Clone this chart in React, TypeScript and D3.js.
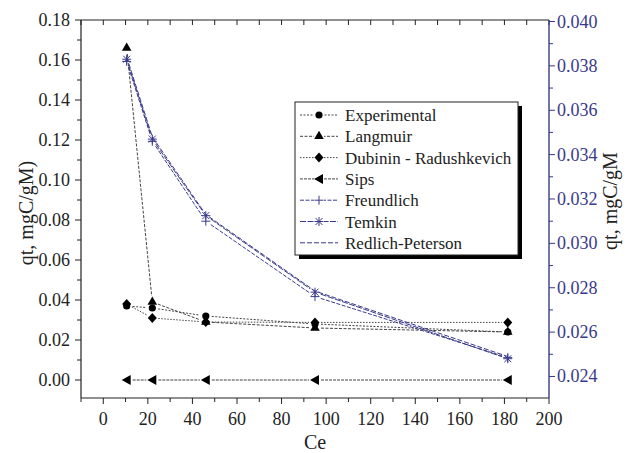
import * as d3 from 'd3';

const ce = [10.5, 22, 46, 95, 181.5];

// left axis series
const experimental = [0.037, 0.036, 0.032, 0.028, 0.024];
const langmuir = [0.166, 0.039, 0.029, 0.026, 0.024];
const dubinin = [0.038, 0.031, 0.029, 0.0288, 0.0288];
const sips = [0, 0, 0, 0, 0];

// right axis series
const freundlich = [0.0382, 0.0346, 0.0310, 0.0276, 0.02485];
const temkin = [0.0383, 0.0347, 0.03125, 0.0278, 0.0248];
const redlichPeterson = [0.0384, 0.0348, 0.0313, 0.02785, 0.0249];

const xTicks = [0, 20, 40, 60, 80, 100, 120, 140, 160, 180, 200];
const yLeftTicks = [0, 0.02, 0.04, 0.06, 0.08, 0.1, 0.12, 0.14, 0.16, 0.18];
const yRightTicks = [0.024, 0.026, 0.028, 0.03, 0.032, 0.034, 0.036, 0.038, 0.04];

const legendNames = ['Experimental', 'Langmuir', 'Dubinin - Radushkevich', 'Sips', 'Freundlich', 'Temkin', 'Redlich-Peterson'];

const W = 627;
const H = 453;
const m = { left: 81, right: 549, top: 20, bottom: 398 };
const NAVY = '#3a3a8a';
const GRAY = '#444';
const FONT = 'Liberation Serif';

const x = d3.scaleLinear().domain([-10, 200]).range([m.left, m.right]);
const yL = d3.scaleLinear().domain([-0.009, 0.18]).range([m.bottom, m.top]);
const yR = d3.scaleLinear().domain([0.02303, 0.0400]).range([m.bottom, m.top + 1.5]);

type Pt = [number, number];

function gapSegments(pts: Pt[], gap: number) {
  const out: [Pt, Pt][] = [];
  for (let i = 0; i < pts.length - 1; i++) {
    const [x1, y1] = pts[i];
    const [x2, y2] = pts[i + 1];
    const len = Math.hypot(x2 - x1, y2 - y1);
    if (len <= gap * 2) continue;
    const ux = (x2 - x1) / len;
    const uy = (y2 - y1) / len;
    out.push([[x1 + ux * gap, y1 + uy * gap], [x2 - ux * gap, y2 - uy * gap]]);
  }
  return out;
}

function Marker({ kind, cx, cy }: { kind: string; cx: number; cy: number }) {
  if (kind === 'circle') return <circle cx={cx} cy={cy} r={3.6} fill="#000" />;
  if (kind === 'triangle') {
    const s = d3.symbol(d3.symbolTriangle, 40)();
    return <path d={s!} transform={`translate(${cx},${cy})`} fill="#000" />;
  }
  if (kind === 'diamond') {
    return <path d={`M${cx},${cy - 5}L${cx + 4.5},${cy}L${cx},${cy + 5}L${cx - 4.5},${cy}Z`} fill="#000" />;
  }
  if (kind === 'left') {
    return <path d={`M${cx - 5},${cy}L${cx + 4},${cy - 5}L${cx + 4},${cy + 5}Z`} fill="#000" />;
  }
  if (kind === 'plus') {
    return (
      <g stroke={NAVY} strokeWidth={1}>
        <line x1={cx - 4.5} x2={cx + 4.5} y1={cy} y2={cy} />
        <line x1={cx} x2={cx} y1={cy - 4.5} y2={cy + 4.5} />
      </g>
    );
  }
  if (kind === 'star') {
    return (
      <g stroke={NAVY} strokeWidth={1}>
        <line x1={cx - 4.5} x2={cx + 4.5} y1={cy} y2={cy} />
        <line x1={cx} x2={cx} y1={cy - 4.5} y2={cy + 4.5} />
        <line x1={cx - 3.5} x2={cx + 3.5} y1={cy - 3.5} y2={cy + 3.5} />
        <line x1={cx - 3.5} x2={cx + 3.5} y1={cy + 3.5} y2={cy - 3.5} />
      </g>
    );
  }
  return null;
}

const series = [
  { name: legendNames[0], vals: experimental, axis: 'L', marker: 'circle', color: GRAY, dash: '2,1.5' },
  { name: legendNames[1], vals: langmuir, axis: 'L', marker: 'triangle', color: GRAY, dash: '3,1.5' },
  { name: legendNames[2], vals: dubinin, axis: 'L', marker: 'diamond', color: GRAY, dash: '1.5,1.5' },
  { name: legendNames[3], vals: sips, axis: 'L', marker: 'left', color: GRAY, dash: '3,1' },
  { name: legendNames[4], vals: freundlich, axis: 'R', marker: 'plus', color: NAVY, dash: '4,1.5' },
  { name: legendNames[5], vals: temkin, axis: 'R', marker: 'star', color: NAVY, dash: '6,1.5' },
  { name: legendNames[6], vals: redlichPeterson, axis: 'R', marker: 'none', color: NAVY, dash: '5,2' },
];

const tf = { fontFamily: FONT };

export default function App() {
  const xMinor = d3.range(-10, 201, 10);
  const yLMinor = d3.range(-0.0, 0.181, 0.01);
  const yRMinor = d3.range(0.024, 0.0401, 0.001);

  const legend = { x: 295, y: 102, w: 223, h: 153 };

  return (
    <svg width={W} height={H} style={{ position: 'absolute', left: 0, top: 0, fontFamily: FONT }}>
      <rect width={W} height={H} fill="#fff" />

      {/* data */}
      {series.map((s) => {
        const pts: Pt[] = ce.map((c, i) => [x(c), s.axis === 'L' ? yL(s.vals[i]) : yR(s.vals[i])]);
        const segs = gapSegments(pts, 6);
        return (
          <g key={s.name}>
            {s.marker === 'none'
              ? <path d={d3.line()(pts)!} fill="none" stroke={s.color} strokeWidth={1} strokeDasharray={s.dash} />
              : segs.map((sg, i) => (
                <line key={i} x1={sg[0][0]} y1={sg[0][1]} x2={sg[1][0]} y2={sg[1][1]}
                  stroke={s.color} strokeWidth={1} strokeDasharray={s.dash} />
              ))}
            {pts.map((p, i) => <Marker key={i} kind={s.marker} cx={p[0]} cy={p[1]} />)}
          </g>
        );
      })}

      {/* frame: top */}
      <line x1={m.left} x2={m.right} y1={m.top} y2={m.top} stroke="#222" strokeWidth={1.2} />
      {xMinor.map((t) => (
        <line key={'tt' + t} x1={x(t)} x2={x(t)} y1={m.top} y2={m.top + 5} stroke="#222" />
      ))}

      {/* bottom axis */}
      <line x1={m.left} x2={m.right} y1={m.bottom} y2={m.bottom} stroke="#222" strokeWidth={1.2} />
      {xMinor.map((t) => (
        <line key={'bt' + t} x1={x(t)} x2={x(t)} y1={m.bottom} y2={m.bottom + (t % 20 === 0 ? 6 : 4)} stroke="#222" />
      ))}
      {xTicks.map((t) => (
        <text key={'bl' + t} x={x(t)} y={m.bottom + 27} textAnchor="middle" fontSize={18} fill="#222" style={tf}>{t}</text>
      ))}
      <text x={(m.left + m.right) / 2} y={449} textAnchor="middle" fontSize={20} fill="#222" style={tf}>Ce</text>

      {/* left axis */}
      <line x1={m.left} x2={m.left} y1={m.top} y2={m.bottom} stroke="#222" strokeWidth={1.2} />
      {yLMinor.map((t, i) => (
        <line key={'lt' + i} x1={m.left - (i % 2 === 0 ? 6 : 4)} x2={m.left} y1={yL(t)} y2={yL(t)} stroke="#222" />
      ))}
      {yLeftTicks.map((t) => (
        <text key={'ll' + t} x={m.left - 11} y={yL(t) + 6} textAnchor="end" fontSize={18} fill="#222" style={tf}>{t.toFixed(2)}</text>
      ))}
      <text transform={`translate(33,${(m.top + m.bottom) / 2 + 4}) rotate(-90)`} textAnchor="middle" fontSize={20} fill="#222" style={tf}>qt, mgC/gM)</text>

      {/* right axis */}
      <line x1={m.right} x2={m.right} y1={m.top} y2={m.bottom} stroke={NAVY} strokeWidth={1.4} />
      {yRMinor.map((t, i) => (
        <line key={'rt' + i} x1={m.right} x2={m.right + (i % 2 === 0 ? 6 : 4)} y1={yR(t)} y2={yR(t)} stroke={NAVY} />
      ))}
      {yRightTicks.map((t) => (
        <text key={'rl' + t} x={m.right + 8} y={yR(t) + 6} fontSize={18} fill={NAVY} style={tf}>{t.toFixed(3)}</text>
      ))}
      <text transform={`translate(617,${(m.top + m.bottom) / 2 - 8}) rotate(-90)`} textAnchor="middle" fontSize={20} fill="#222" style={tf}>qt, mgC/gM</text>

      {/* legend */}
      <rect x={legend.x + 4} y={legend.y + 4} width={legend.w} height={legend.h} fill="#000" />
      <rect x={legend.x} y={legend.y} width={legend.w} height={legend.h} fill="#fff" stroke="#222" strokeWidth={1} />
      {series.map((s, i) => {
        const ly = legend.y + 13 + i * 21.3;
        return (
          <g key={'lg' + s.name}>
            <line x1={legend.x + 5} x2={legend.x + 43} y1={ly} y2={ly} stroke={s.color} strokeWidth={1} strokeDasharray={s.dash} />
            {s.marker !== 'none' && <rect x={legend.x + 19} y={ly - 6} width={10} height={12} fill="#fff" />}
            <Marker kind={s.marker} cx={legend.x + 24} cy={ly} />
            <text x={legend.x + 50} y={ly + 6} fontSize={17} fill="#222" style={tf}>{s.name}</text>
          </g>
        );
      })}
    </svg>
  );
}
